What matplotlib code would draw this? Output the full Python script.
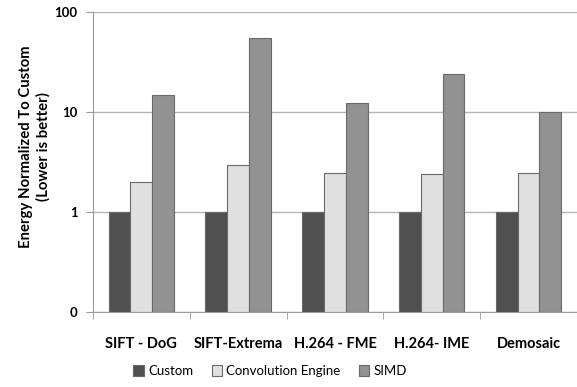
import numpy as np
import matplotlib.pyplot as plt

plt.rcParams['font.family'] = ['Lato', 'DejaVu Sans']

categories = ["SIFT - DoG", "SIFT-Extrema", "H.264 - FME", "H.264- IME", "Demosaic"]
custom = [1, 1, 1, 1, 1]
conv_engine = [2.0, 2.95, 2.45, 2.4, 2.45]
simd = [14.7, 54.5, 12.3, 24.2, 10.1]

series = [("Custom", custom, "#505050"),
          ("Convolution Engine", conv_engine, "#e0e0e0"),
          ("SIMD", simd, "#929292")]

fig = plt.figure(figsize=(5.77, 3.87), dpi=100)
ax = fig.add_axes([0.161, 0.194, 0.839, 0.775])

base = 0.1
x = np.arange(len(categories))
w = 0.225
for i, (name, vals, col) in enumerate(series):
    vals = np.array(vals)
    ax.bar(x + (i - 1) * w, vals - base, w, bottom=base, color=col,
           edgecolor="#6a6a6a", linewidth=0.8, label=name, zorder=3)

ax.set_yscale("log")
ax.set_ylim(0.1, 100)
ax.set_xlim(-0.5, len(categories) - 0.5)
ax.set_yticks([0.1, 1, 10, 100])
ax.set_yticklabels(["0", "1", "10", "100"], fontweight="bold", fontsize=9.5)
ax.yaxis.set_minor_locator(plt.NullLocator())
ax.grid(axis="y", color="#b4b4b4", linewidth=1, zorder=0)

ax.set_xticks(x)
ax.set_xticklabels(categories, fontweight="bold", fontsize=10.5)
ax.tick_params(axis="x", length=0, pad=18)
ax.set_xticks(np.arange(len(categories) + 1) - 0.5, minor=True)
ax.tick_params(axis="x", which="minor", length=5, color="#9a9a9a")
ax.tick_params(axis="y", length=5, color="#9a9a9a", pad=6)

for s in ["top", "right"]:
    ax.spines[s].set_visible(False)
for s in ["left", "bottom"]:
    ax.spines[s].set_color("#9a9a9a")

ax.set_ylabel("Energy Normalized To Custom\n(Lower is better)", fontweight="bold",
              fontsize=10.7, linespacing=1.3)
ax.yaxis.set_label_coords(-0.087, 0.55)

fig.legend(loc="lower center", bbox_to_anchor=(0.468, -0.005), ncol=3, frameon=False,
           fontsize=9.5, handlelength=0.8, handleheight=0.8, handletextpad=0.3,
           columnspacing=1.4)

fig.savefig("out.png", dpi=100)
